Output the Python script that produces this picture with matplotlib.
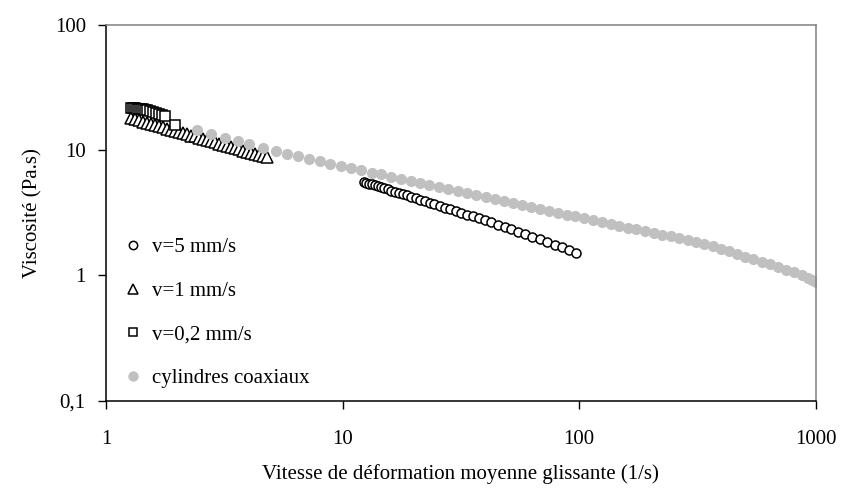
import matplotlib
matplotlib.use("Agg")
import matplotlib.pyplot as plt
from matplotlib.lines import Line2D

plt.rcParams['font.family'] = ['Liberation Serif', 'DejaVu Serif']

# v = 5 mm/s (circles)
x_v5 = [12.33, 12.62, 12.95, 13.31, 13.69, 14.11, 14.54, 15.02, 15.53, 16.08,
        16.67, 17.30, 17.98, 18.71, 19.52, 20.37, 21.28, 22.28, 23.35, 24.48,
        25.73, 27.07, 28.52, 30.10, 31.78, 33.63, 35.62, 37.76, 40.10, 42.65,
        45.44, 48.47, 51.73, 55.33, 59.22, 63.44, 68.12, 73.20, 78.82, 84.94,
        91.0, 97.3]
y_v5 = [5.55, 5.47, 5.39, 5.30, 5.21, 5.12, 5.03, 4.93, 4.84, 4.74,
        4.64, 4.54, 4.43, 4.33, 4.22, 4.12, 4.01, 3.90, 3.79, 3.69,
        3.58, 3.47, 3.37, 3.26, 3.16, 3.05, 2.95, 2.85, 2.75, 2.65,
        2.54, 2.43, 2.33, 2.23, 2.13, 2.03, 1.94, 1.85, 1.76, 1.67,
        1.59, 1.51]

# v = 1 mm/s (triangles)
x_v1 = [1.276, 1.326, 1.379, 1.434, 1.490, 1.550, 1.611, 1.676, 1.742, 1.812,
        1.884, 1.958, 2.036, 2.117, 2.200, 2.288, 2.378, 2.473, 2.571, 2.673,
        2.779, 2.889, 3.005, 3.124, 3.248, 3.376, 3.511, 3.650, 3.795, 3.947,
        4.102, 4.266, 4.435, 4.612, 4.794]
y_v1 = [17.9, 17.6, 17.2, 16.8, 16.5, 16.1, 15.8, 15.5, 15.1, 14.8,
        14.5, 14.2, 13.9, 13.6, 13.3, 13.0, 12.8, 12.5, 12.2, 12.0,
        11.7, 11.5, 11.2, 11.0, 10.8, 10.5, 10.3, 10.1, 9.89, 9.68,
        9.48, 9.28, 9.08, 8.89, 8.71]

# v = 0,2 mm/s (squares)
x_v02 = [1.276, 1.301, 1.326, 1.352, 1.379, 1.406, 1.434, 1.462, 1.490, 1.533,
         1.578, 1.625, 1.676, 1.723, 1.774, 1.958]
y_v02 = [21.6, 21.5, 21.4, 21.3, 21.2, 21.1, 21.0, 20.9, 20.8, 20.6,
         20.2, 19.8, 19.4, 19.0, 18.6, 15.7]

# cylindres coaxiaux (grey dots)
x_cyl = [2.43, 2.79, 3.20, 3.61, 4.02, 4.59, 5.21, 5.83, 6.46, 7.19,
         8.03, 8.87, 9.82, 10.9, 12.0, 13.3, 14.6, 16.1, 17.7, 19.4,
         21.3, 23.3, 25.6, 28.0, 30.7, 33.6, 36.8, 40.3, 44.0, 48.1,
         52.6, 57.5, 62.9, 68.3, 74.8, 81.3, 88.9, 96.5, 105, 115,
         125, 136, 148, 161, 175, 190, 207, 224, 244, 265,
         288, 312, 338, 367, 397, 430, 466, 505, 546, 592,
         640, 693, 750, 812, 878, 930, 968, 1000]
y_cyl = [14.4, 13.4, 12.5, 11.7, 11.1, 10.35, 9.74, 9.29, 8.91, 8.51,
         8.12, 7.78, 7.45, 7.15, 6.87, 6.60, 6.37, 6.12, 5.89, 5.69,
         5.47, 5.28, 5.08, 4.90, 4.73, 4.56, 4.39, 4.23, 4.08, 3.93,
         3.78, 3.65, 3.52, 3.40, 3.27, 3.16, 3.05, 2.95, 2.84, 2.74,
         2.65, 2.57, 2.48, 2.40, 2.32, 2.25, 2.18, 2.11, 2.04, 1.97,
         1.91, 1.85, 1.79, 1.71, 1.63, 1.55, 1.48, 1.41, 1.34, 1.28,
         1.22, 1.16, 1.11, 1.06, 1.01, 0.96, 0.914, 0.88]

labels = ["v=5 mm/s", "v=1 mm/s", "v=0,2 mm/s", "cylindres coaxiaux"]
x_ticks = [1, 10, 100, 1000]
x_ticklabels = ["1", "10", "100", "1000"]
y_ticks = [0.1, 1, 10, 100]
y_ticklabels = ["0,1", "1", "10", "100"]

FS = 15
GREY = "#C0C0C0"

fig = plt.figure(figsize=(8.42, 4.92), dpi=100)
ax = fig.add_axes([106/842, 1-400.7/492, (815.5-106)/842, (400.7-24.5)/492])

ax.plot(x_v5, y_v5, linestyle='none', marker='o', ms=6.5, mfc='white', mec='black', mew=1.1)
ax.plot(x_v1, y_v1, linestyle='none', marker='^', ms=8, mfc='white', mec='black', mew=1.1)
ax.plot(x_v02, y_v02, linestyle='none', marker='s', ms=7, mfc='white', mec='black', mew=1.1)
ax.plot(x_cyl, y_cyl, linestyle='none', marker='o', ms=8, mfc=GREY, mec=GREY, mew=0)

ax.set_xscale('log')
ax.set_yscale('log')
ax.set_xlim(1, 1000)
ax.set_ylim(0.1, 100)
ax.set_xticks(x_ticks)
ax.set_xticklabels(x_ticklabels)
ax.set_yticks(y_ticks)
ax.set_yticklabels(y_ticklabels)
ax.minorticks_off()
ax.tick_params(axis='x', direction='out', length=5.5, width=1, pad=15.5, labelsize=FS, color='black')
ax.tick_params(axis='y', direction='out', length=5.5, width=1, pad=9, labelsize=FS, color='black')
for s in ['left', 'bottom']:
    ax.spines[s].set_color('black')
    ax.spines[s].set_linewidth(1.1)
for s in ['top', 'right']:
    ax.spines[s].set_color('#808080')
    ax.spines[s].set_linewidth(1.1)

ax.set_xlabel("Vitesse de déformation moyenne glissante (1/s)", fontsize=FS, labelpad=11)
ax.set_ylabel("Viscosité (Pa.s)", fontsize=FS, labelpad=9)

handles = [
    Line2D([], [], linestyle='none', marker='o', ms=6, mfc='white', mec='black', mew=1.1),
    Line2D([], [], linestyle='none', marker='^', ms=7, mfc='white', mec='black', mew=1.1),
    Line2D([], [], linestyle='none', marker='s', ms=6, mfc='white', mec='black', mew=1.1),
    Line2D([], [], linestyle='none', marker='o', ms=7.5, mfc=GREY, mec=GREY, mew=0),
]
ax.legend(handles, labels, loc='upper left', bbox_to_anchor=(0.012, 0.455), frameon=False,
          fontsize=FS, handlelength=1.0, handletextpad=0.4, labelspacing=1.15, borderaxespad=0)

fig.savefig("out.png", dpi=100)
